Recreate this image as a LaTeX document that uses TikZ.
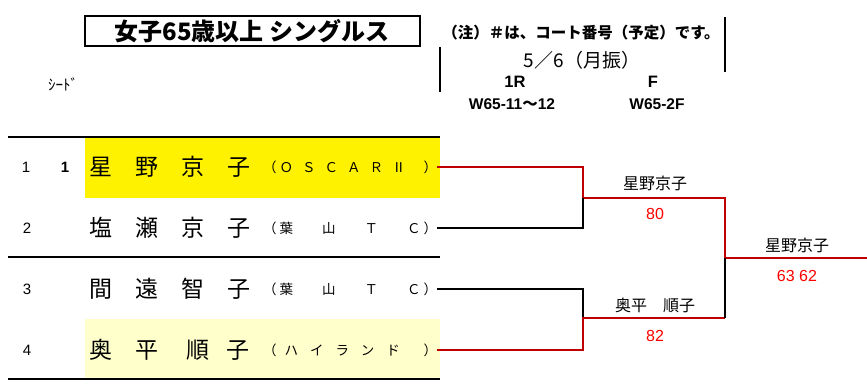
\documentclass[tikz,border=0pt]{standalone}
\usepackage{fontspec}
\setmainfont{Noto Sans CJK JP}
\newfontfamily\arialfont{Liberation Sans}
\usetikzlibrary{positioning}
\definecolor{winred}{RGB}{192,0,0}
\definecolor{paleyellow}{RGB}{255,255,204}
\newcommand{\clubtxt}[1]{\makebox[174pt]{#1}}

\begin{document}
\begin{tikzpicture}[x=1pt,y=-1pt]
\tikzstyle{win}=[draw=winred, line width=2pt]
\tikzstyle{lose}=[draw=black, line width=2pt]
\tikzstyle{rule}=[draw=black, line width=2.2pt]
\tikzstyle{num}=[inner sep=0pt, font=\fontsize{15}{15}\selectfont\arialfont]
\tikzstyle{player}=[inner sep=0pt, anchor=west, font=\fontsize{23}{23}\selectfont]
\tikzstyle{club}=[inner sep=0pt, anchor=west, font=\fontsize{13.5}{13.5}\selectfont]
\tikzstyle{winner}=[inner sep=0pt, font=\fontsize{16}{16}\selectfont]
\tikzstyle{score}=[inner sep=0pt, text=red, font=\fontsize{16}{16}\selectfont\arialfont]
\tikzstyle{head}=[inner sep=0pt, font=\fontsize{16.5}{16.5}\selectfont\arialfont\bfseries]
\useasboundingbox (0,0) rectangle (867,383);
% 1. Heading
%%%%%%%%%%%%
\node[draw, line width=2pt, minimum width=335pt, minimum height=30pt, font=\fontsize{24}{24}\selectfont\bfseries] (title) at (252,31) {女子65歳以上 シングルス};
\node[inner sep=0pt, font=\fontsize{15.5}{15.5}\selectfont\bfseries] (note) at (581,33) {（注）＃は、コート番号（予定）です。};
\node[inner sep=0pt, font=\fontsize{19}{19}\selectfont] (date) at (582,60) {5／6（月振）};
\node[head] (r1) at (515,82) {1R};
\node[head] (r2) at (653,82) {F};
\node[head, font=\fontsize{15.5}{15.5}\selectfont\arialfont\bfseries] (court1) at (512,104) {W65-11{\normalfont\bfseries ～}12};
\node[head, font=\fontsize{15.5}{15.5}\selectfont\arialfont\bfseries] (court2) at (657,104) {W65-2F};
\node[inner sep=0pt, font=\fontsize{15}{15}\selectfont] (seed) at (63,84) {ｼｰﾄﾞ};
\draw[line width=2pt] (440,47) -- (440,92);
\draw[line width=2pt] (725,17) -- (725,72);

% 2. Rows
%%%%%%%%%
\fill[yellow] (85,138) rectangle (440,198);
\fill[paleyellow] (85,319) rectangle (440,379);
\draw[rule] (8,137) -- (440,137);
\draw[rule] (8,257) -- (440,257);
\draw[rule] (8,379) -- (440,379);

\node[num] (n1) at (26,167) {1};
\node[num, font=\fontsize{15}{15}\selectfont\arialfont\bfseries] (s1) at (65,167) {1};
\node[player] (p1) at (89,167) {星　野　京　子};
\node[club] (c1) at (263,167) {\clubtxt{（\hspace{3pt}Ｏ\hfill Ｓ\hfill Ｃ\hfill Ａ\hfill Ｒ\hfill Ⅱ\hfill\hfill ）}};

\node[num] (n2) at (27,228) {2};
\node[player] (p2) at (89,228) {塩　瀬　京　子};
\node[club] (c2) at (263,228) {\clubtxt{（\hspace{3pt}葉\hfill 山\hfill Ｔ\hfill Ｃ\hspace{3pt}）}};

\node[num] (n3) at (27,289) {3};
\node[player] (p3) at (89,289) {間　遠　智　子};
\node[club] (c3) at (263,289) {\clubtxt{（\hspace{3pt}葉\hfill 山\hfill Ｔ\hfill Ｃ\hspace{3pt}）}};

\node[num] (n4) at (27,350) {4};
\node[player] (p4) at (89,350) {奥\hspace{1em}平\hspace{28pt}順\hspace{17pt}子};
\node[club] (c4) at (263,350) {\clubtxt{（\hspace{8pt}ハ\hfill イ\hfill ラ\hfill ン\hfill ド\hfill\hfill ）}};

% 3. Bracket
%%%%%%%%%%%%
\coordinate (m1) at (583,198);
\coordinate (m2) at (583,318);
\coordinate (f1) at (725,198);
\coordinate (f2) at (725,318);
\coordinate (f) at (725,258);
\coordinate (champ) at (867,258);

\draw[win] (c1.east) -| (m1) -- (f1) -- (f) -- (champ);
\draw[lose] (c2.east) -| (m1);
\draw[lose] (c3.east) -| (m2);
\draw[win] (c4.east) -| (m2) -- (f2);
\draw[lose] (f2) -- (f);

\node[winner] (w1) at (655,183) {星野京子};
\node[score, below=18pt of w1] (sc1) {80};
\node[winner] (w2) at (655,305) {奥平　順子};
\node[score, below=18pt of w2] (sc2) {82};
\node[winner] (w3) at (797,245) {星野京子};
\node[score, below=18pt of w3] (sc3) {63 62};
\end{tikzpicture}
\end{document}
